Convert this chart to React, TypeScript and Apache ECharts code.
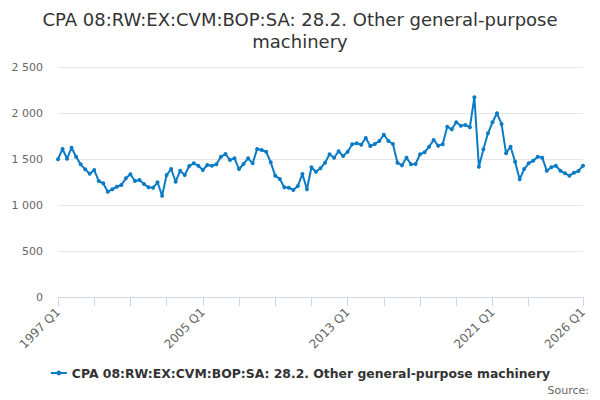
import { useEffect, useRef } from "react";
import * as echarts from "echarts";

const startYear = 1997;
const quarters: string[] = [];
for (let y = startYear; y <= 2026; y++) {
  for (let q = 1; q <= 4; q++) {
    if (y === 2026 && q > 1) break;
    quarters.push(`${y} Q${q}`);
  }
}

const values = [
  1497, 1609, 1503, 1623, 1525, 1442, 1388, 1340, 1380, 1261,
  1236, 1145, 1171, 1199, 1217, 1290, 1334, 1261, 1272, 1228,
  1192, 1188, 1247, 1101, 1326, 1391, 1253, 1373, 1326, 1424,
  1453, 1427, 1380, 1435, 1427, 1442, 1525, 1554, 1489, 1507,
  1391, 1446, 1507, 1453, 1609, 1598, 1579, 1464, 1319, 1283,
  1192, 1188, 1163, 1207, 1337, 1171, 1410, 1362, 1399, 1460,
  1551, 1514, 1584, 1533, 1579, 1660, 1671, 1656, 1728, 1641,
  1663, 1696, 1764, 1696, 1663, 1460, 1431, 1514, 1442, 1446,
  1551, 1573, 1634, 1707, 1645, 1660, 1851, 1823, 1899, 1862,
  1870, 1845, 2171, 1416, 1605, 1779, 1899, 1997, 1881, 1562,
  1634, 1471, 1279, 1391, 1453, 1482, 1525, 1514, 1373, 1410,
  1427, 1373, 1344, 1319, 1351, 1370, 1427,
];

const seriesName = "CPA 08:RW:EX:CVM:BOP:SA: 28.2. Other general-purpose machinery";
const titleText = "CPA 08:RW:EX:CVM:BOP:SA: 28.2. Other general-purpose\nmachinery";

const fmt = (v: number) => String(v).replace(/\B(?=(\d{3})+(?!\d))/g, " ");

const App = () => {
  const chartRef = useRef<HTMLDivElement>(null);

  useEffect(() => {
    const chart = echarts.init(chartRef.current, undefined, { renderer: "svg" });
    const last = quarters.length - 1;
    chart.setOption({
      animation: false,
      textStyle: { fontFamily: "DejaVu Sans" },
      title: {
        text: titleText,
        left: "center",
        top: 3,
        textStyle: {
          fontSize: 18,
          fontWeight: "normal",
          color: "#333333",
          lineHeight: 22,
          fontFamily: "DejaVu Sans",
        },
      },
      grid: { left: 58, right: 17, top: 67, bottom: 103, containLabel: false },
      xAxis: {
        type: "category",
        data: quarters,
        boundaryGap: false,
        axisLine: { lineStyle: { color: "#ccd6eb" } },
        axisTick: {
          length: 9,
          lineStyle: { color: "#ccd6eb" },
          interval: (i: number) => (i % 8 === 0 && i <= 104) || i === last,
        },
        axisLabel: {
          rotate: 45,
          color: "#666666",
          fontSize: 12,
          margin: 13,
          interval: (i: number) => i % 32 === 0 || i === last,
        },
        splitLine: { show: false },
      },
      yAxis: {
        type: "value",
        min: 0,
        max: 2500,
        interval: 500,
        axisLine: { show: false },
        axisTick: { show: false },
        axisLabel: {
          color: "#666666",
          fontSize: 11,
          margin: 15,
          formatter: (v: number) => fmt(v),
        },
        splitLine: { lineStyle: { color: "#e6e6e6" } },
      },
      legend: {
        bottom: 16,
        left: "center",
        itemWidth: 16,
        itemHeight: 6,
        textStyle: { fontSize: 12.4, fontWeight: "bold", color: "#333333" },
        data: [seriesName],
      },
      graphic: [
        {
          type: "text",
          right: 11,
          bottom: 4,
          style: { text: "Source:", fontSize: 11, fill: "#666666", fontFamily: "DejaVu Sans" },
        },
      ],
      series: [
        {
          name: seriesName,
          type: "line",
          data: values,
          symbol: "circle",
          symbolSize: 4,
          showAllSymbol: true,
          lineStyle: { width: 2, color: "#0a7bc4" },
          itemStyle: { color: "#0a7bc4" },
        },
      ],
    });
    return () => chart.dispose();
  }, []);

  return (
    <div
      ref={chartRef}
      style={{ position: "absolute", left: 0, top: 0, width: 600, height: 400 }}
    />
  );
};

export default App;
